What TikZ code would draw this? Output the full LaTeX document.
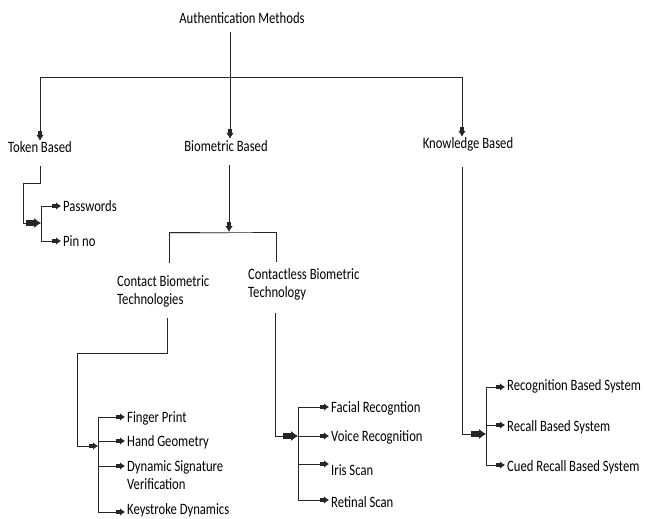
\documentclass[tikz,border=0pt]{standalone}
\usepackage{fontspec}
\setmainfont[FakeStretch=0.8]{Carlito}
\usepackage{tikz}
\usetikzlibrary{arrows.meta, positioning}
\tikzstyle{head} = [anchor=base, inner sep=1pt]
\tikzstyle{leaf} = [anchor=base west, inner xsep=2pt, inner ysep=1pt, align=left]
\tikzstyle{wire} = [draw=black!85, line width=0.8pt]

\begin{document}
\begin{tikzpicture}[x=1pt, y=-1pt, font=\fontsize{15.8}{18}\selectfont]
        % 样式定义
        \tikzstyle{toparrow} = [wire, -{Rectangle[length=4pt,width=3.6pt]Latex[length=6pt,width=7.5pt]}]
        \tikzstyle{fatarrow} = [wire, -{Rectangle[length=8pt,width=5.5pt]Latex[length=7pt,width=10pt]}]
        \tikzstyle{leafarrow} = [wire, -{Rectangle[length=4pt,width=3.8pt]Latex[length=5pt,width=7.5pt]}]
        \useasboundingbox (0,0) rectangle (646,519);

        % 放置节点
        \node [head] (auth) at (242,24) {Authentication Methods};
        \node [head] (tok) at (40,153) {Token Based};
        \node [head] (bio) at (226,151) {Biometric Based};
        \node [head] (know) at (468,149) {Knowledge Based};

        \node [leaf] (pw) at (61,211) {Passwords};
        \node [leaf] (pin) at (61,246) {Pin no};

        % 两行节点以末行基线定位
        \node [leaf] (con) at (115,304) {Contact Biometric\\Technologies};
        \node [leaf] (ctl) at (246,297) {Contactless Biometric\\Technology};

        \node [leaf] (fp) at (125,422) {Finger Print};
        \node [leaf] (hg) at (125,446) {Hand Geometry};
        \node [leaf] (dsv) at (125,489) {Dynamic Signature\\Verification};
        \node [leaf] (ks) at (125,514) {Keystroke Dynamics};

        \node [leaf] (fr) at (329,412) {Facial Recogntion};
        \node [leaf] (vr) at (329,441) {Voice Recognition};
        \node [leaf] (iris) at (329,475) {Iris Scan};
        \node [leaf] (ret) at (329,507) {Retinal Scan};

        \node [leaf] (rbs) at (505,390) {Recognition Based System};
        \node [leaf] (rcs) at (505,431) {Recall Based System};
        \node [leaf] (crs) at (505,471) {Cued Recall Based System};

        % 连接点
        \coordinate (authB) at ([xshift=-12pt,yshift=-7pt]auth.south);
        \coordinate (busL) at (40,77);
        \coordinate (busR) at (462,77);
        \coordinate (tokA) at (23,183);
        \coordinate (tokJ) at (41,223);
        \coordinate (bioJ) at (229,232);
        \coordinate (conT) at (169,263);
        \coordinate (ctlT) at (276,262);
        \coordinate (conA) at (77,353);
        \coordinate (conJ) at (98,446);
        \coordinate (ctlJ) at (298,436);
        \coordinate (knowJ) at (486,434);

        % 连线
        \draw [wire] (busL) -- (busR);
        \draw [toparrow] (authB) -- (authB |- bio.north);
        \draw [toparrow] (busL) -- (busL |- tok.north);
        \draw [toparrow] (busR) -- (busR |- know.north);

        \draw [fatarrow] ([yshift=-12pt]tok.south) |- (tokA) |- (tokJ);
        \draw [leafarrow] (tokJ) |- ([yshift=5pt]pw.base west);
        \draw [leafarrow] (tokJ) |- ([yshift=5pt]pin.base west);

        \draw [toparrow] ([yshift=-13pt]bioJ |- bio.south) -- (bioJ);
        \draw [yellow!90!orange, line width=0.7pt] ([yshift=-1pt]conT |- bioJ) -- ([yshift=-1pt]bioJ);
        \draw [wire] (conT) |- (bioJ) -| (ctlT);

        \draw [leafarrow] ([xshift=52pt,yshift=-10pt]con.south west) |- (conA) |- (conJ);
        \draw [leafarrow] (conJ) |- ([yshift=5pt]fp.base west);
        \draw [leafarrow] (conJ) |- ([yshift=5pt]hg.base west);
        \draw [leafarrow] (conJ) |- ([yshift=23pt]dsv.base west);
        \draw [leafarrow] (conJ) |- ([yshift=2pt]ks.base west);

        \draw [fatarrow] ([xshift=29pt,yshift=-12pt]ctl.south west) |- (ctlJ);
        \draw [leafarrow] (ctlJ) |- ([yshift=5pt]fr.base west);
        \draw [leafarrow] (ctlJ) |- ([yshift=5pt]vr.base west);
        \draw [leafarrow] (ctlJ) |- ([yshift=11pt]iris.base west);
        \draw [leafarrow] (ctlJ) |- ([yshift=7pt]ret.base west);

        \draw [fatarrow] ([xshift=-6pt,yshift=-14pt]know.south) |- (knowJ);
        \draw [leafarrow] (knowJ) |- ([yshift=3pt]rbs.base west);
        \draw [leafarrow] (knowJ) |- ([yshift=6pt]rcs.base west);
        \draw [leafarrow] (knowJ) |- ([yshift=6pt]crs.base west);
    \end{tikzpicture}
\end{document}
